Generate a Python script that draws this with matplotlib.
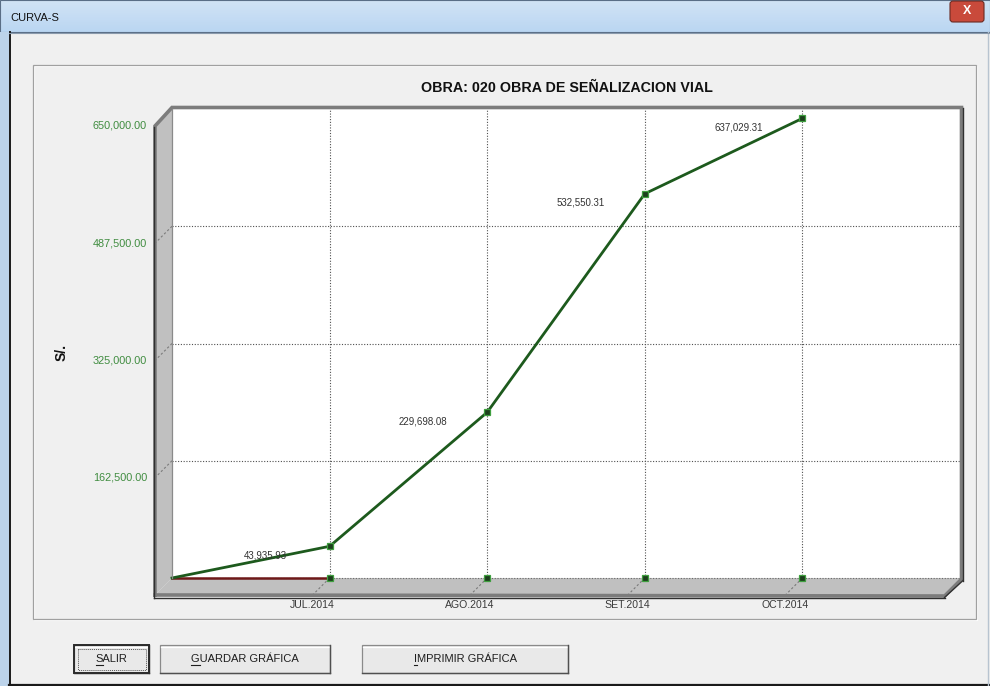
import matplotlib
matplotlib.use("Agg")
import matplotlib.pyplot as plt
import numpy as np
from matplotlib.patches import Polygon, Rectangle, FancyBboxPatch

plt.rcParams['font.family'] = ['Liberation Sans', 'DejaVu Sans']

# ---- chart content -------------------------------------------------------
window_title = "CURVA-S"
chart_title = "OBRA: 020 OBRA DE SEÑALIZACION VIAL"
y_label = "S/."
months = ["JUL.2014", "AGO.2014", "SET.2014", "OCT.2014"]
month_pos = [1, 2, 3, 4]
curve_x = [0, 1, 2, 3, 4]
curve_values = [0.0, 43935.93, 229698.08, 532550.31, 637029.31]
base_x = [0, 1]
base_values = [0, 0]
base_marker_x = [1, 2, 3, 4]
base_marker_values = [0, 0, 0, 0]
y_ticks = [162500, 325000, 487500, 650000]
y_max = 650000
x_max = 5
buttons = ["SALIR", "GUARDAR GRÁFICA", "IMPRIMIR GRÁFICA"]

# ---- canvas ---------------------------------------------------------------
W, H = 990, 686
fig = plt.figure(figsize=(W / 100, H / 100), dpi=100)
fig.patch.set_facecolor('#f0f0f0')

bg = fig.add_axes([0, 0, 1, 1], zorder=0)
bg.set_xlim(0, W)
bg.set_ylim(H, 0)
bg.set_autoscale_on(False)
bg.axis('off')

fg = fig.add_axes([0, 0, 1, 1], zorder=3)
fg.set_xlim(0, W)
fg.set_ylim(H, 0)
fg.set_autoscale_on(False)
fg.axis('off')
fg.patch.set_alpha(0)

# back wall of the 3D chart
L, R, T, B = 172, 960, 109, 578
D = 17
ax = fig.add_axes([L / W, 1 - B / H, (R - L) / W, (B - T) / H], zorder=2)
ax.set_xlim(0, x_max)
ax.set_ylim(0, y_max)
ax.set_facecolor('white')
for s in ax.spines.values():
    s.set_visible(False)
ax.set_xticks(month_pos)
ax.set_yticks(y_ticks[:-1])
ax.tick_params(length=0, labelbottom=False, labelleft=False)
ax.grid(True, color='#505050', linestyle=(0, (1, 1.5)), linewidth=0.8)
ax.axhline(0, color='#6a6a6a', linestyle=(0, (1, 1.5)), linewidth=0.8, clip_on=False)


def to_img(x, y):
    px, py = ax.transData.transform((x, y))
    return px, H - py


# ---- window chrome --------------------------------------------------------
# title bar
grad = np.linspace(0, 1, 32)[:, None]
top = np.array([0.82, 0.89, 0.96])
bot = np.array([0.73, 0.84, 0.95])
bar = (top[None, None, :] * (1 - grad[..., None]) + bot[None, None, :] * grad[..., None])
bar = np.repeat(bar, 2, axis=1)
bg.imshow(bar, extent=[0, W, 32, 0], aspect='auto', zorder=0.5, interpolation='bilinear')
bg.add_patch(Rectangle((0, 0), W, 32, fill=False, edgecolor='#5a6e86', lw=0.8, zorder=0.6))
bg.text(10, 18, window_title, fontsize=8, color='#111111', va='center', ha='left', zorder=1)
bg.add_patch(FancyBboxPatch((950, 1), 34, 21, boxstyle='round,pad=0,rounding_size=3',
                            facecolor='#c94a3b', edgecolor='#6a2a22', lw=0.8, zorder=1))
bg.text(967, 11.5, "X", fontsize=9, fontweight='bold', color='white', ha='center', va='center', zorder=1.1)

# window frame
bg.add_patch(Rectangle((0, 32), 9, H - 32, facecolor='#bcd3ea', edgecolor='none', zorder=0.6))
bg.plot([9.5, 9.5], [32, H], color='#1a1a1a', lw=1.4, zorder=0.7)
bg.plot([9, W], [684.5, 684.5], color='#1a1a1a', lw=1.6, zorder=0.7)
bg.plot([988, 988], [32, H], color='#b8c4d0', lw=1.0, zorder=0.7)
bg.plot([9, W], [32.5, 32.5], color='#8a9aac', lw=0.8, zorder=0.7)

# group panel
bg.add_patch(Rectangle((34, 66), 943, 554, fill=False, edgecolor='white', lw=0.9, zorder=0.7))
bg.add_patch(Rectangle((33, 65), 943, 554, fill=False, edgecolor='#a0a0a0', lw=0.9, zorder=0.7))

# ---- 3D frame -------------------------------------------------------------
left_wall = [(L - D, T + D), (L, T), (L, B), (L - D, B + D)]
floor = [(L - D, B + D), (L, B), (R, B), (R - D, B + D)]
bg.add_patch(Polygon(left_wall, closed=True, facecolor='#c0c0c0', edgecolor='none', zorder=1))
bg.add_patch(Polygon(floor, closed=True, facecolor='#c0c0c0', edgecolor='none', zorder=1))

# tick connectors across the walls
for v in y_ticks[:-1]:
    _, py = to_img(0, v)
    bg.plot([L, L - D], [py, py + D], color='#7a7a7a', lw=0.8, linestyle=(0, (2, 2)), zorder=1.2)
for m in month_pos:
    px, _ = to_img(m, 0)
    bg.plot([px, px - D], [B, B + D], color='#7a7a7a', lw=0.8, linestyle=(0, (2, 2)), zorder=1.2)

# frame borders
outline_x = [L - D, L - D, L, R + 1.5, R + 1.5, R + 1.5 - D, L - D]
outline_y = [B + D, T + D, T - 1.5, T - 1.5, B + 1, B + D + 1, B + D]
fg.plot(outline_x, outline_y, color='#7c7c7c', lw=2.6, solid_joinstyle='miter')
fg.plot([L - D - 1.5, L - D - 1.5], [T + D + 1, B + D + 2.5], color='#303030', lw=1.0)
fg.plot([L - D - 1.5, R - D + 1.5], [B + D + 2.5, B + D + 2.5], color='#303030', lw=1.0)
fg.plot([R - D + 1.5, R + 3], [B + D + 2.5, B + 2.5], color='#303030', lw=1.0)
fg.plot([R + 3, R + 3], [B + 2.5, T - 1], color='#303030', lw=1.0)
fg.plot([L, L], [T, B], color='#8a8a8a', lw=0.9)

# ---- data -----------------------------------------------------------------
ax.plot(base_x, base_values, color='#6e1818', lw=1.8, clip_on=False, zorder=4)
ax.plot(curve_x, curve_values, color='#1d5a1d', lw=2.0, marker='s', markersize=4.2,
        markerfacecolor='#1c3f1c', markeredgecolor='#3f9f3f', markeredgewidth=0.9,
        markevery=[1, 2, 3, 4], clip_on=False, zorder=5)
ax.plot(base_marker_x, base_marker_values, linestyle='none', marker='s', markersize=4.2,
        markerfacecolor='#1c3f1c', markeredgecolor='#3f9f3f', markeredgewidth=0.9,
        clip_on=False, zorder=5)

for x, v in zip(curve_x[1:], curve_values[1:]):
    ax.annotate(f"{v:,.2f}", (x, v), xytext=(-64, -9), textcoords='offset pixels',
                ha='center', va='center', fontsize=7, color='#333333', zorder=6)

# axis labels on the front edges
for v in y_ticks:
    _, py = to_img(0, v)
    bg.text(L - D - 8, py + D, f"{v:,.2f}", ha='right', va='center',
            fontsize=7.8, color='#3f8c3f', zorder=2)
for m, lab in zip(month_pos, months):
    px, _ = to_img(m, 0)
    bg.text(px - D, B + D + 10, lab, ha='center', va='center',
            fontsize=7.6, color='#3a3a3a', zorder=2)

bg.text(567, 88, chart_title, ha='center', va='center', fontsize=10.3,
        fontweight='bold', color='#111111', zorder=2)
bg.text(62, 352, y_label, ha='center', va='center', rotation=90, fontsize=10,
        fontweight='bold', color='#111111', zorder=2)

# ---- buttons --------------------------------------------------------------
renderer = fig.canvas.get_renderer()
button_boxes = [(74, 645, 149, 673), (160, 645, 330, 673), (362, 645, 568, 673)]
for i, (label, (x0, y0, x1, y1)) in enumerate(zip(buttons, button_boxes)):
    bg.add_patch(Rectangle((x0, y0), x1 - x0, y1 - y0, facecolor='#e9e9e9',
                           edgecolor='#8a8a8a', lw=0.9, zorder=1))
    bg.plot([x0 + 1, x1 - 1], [y0 + 1.5, y0 + 1.5], color='white', lw=0.9, zorder=1.1)
    bg.plot([x1 - 0.5, x1 - 0.5], [y0, y1], color='#505050', lw=1.0, zorder=1.1)
    bg.plot([x0, x1], [y1 - 0.5, y1 - 0.5], color='#505050', lw=1.0, zorder=1.1)
    if i == 0:
        bg.add_patch(Rectangle((x0, y0), x1 - x0, y1 - y0, fill=False,
                               edgecolor='#2a2a2a', lw=1.4, zorder=1.2))
        bg.add_patch(Rectangle((x0 + 3.5, y0 + 3.5), x1 - x0 - 7, y1 - y0 - 7, fill=False,
                               edgecolor='#555555', lw=0.7, linestyle=(0, (1, 1)), zorder=1.2))
    cx, cy = (x0 + x1) / 2, (y0 + y1) / 2
    t = bg.text(cx, cy, label, ha='center', va='center', fontsize=8, color='#1e1e1e', zorder=2)
    bb = t.get_window_extent(renderer)
    first = bg.text(0, 0, label[0], fontsize=8)
    fw = first.get_window_extent(renderer).width
    first.remove()
    ux0 = bb.x0
    uy = H - bb.y0 + 0.5
    bg.plot([ux0, ux0 + fw], [uy, uy], color='#1e1e1e', lw=0.8, zorder=2)

fig.savefig("out.png", dpi=100, facecolor=fig.get_facecolor())
